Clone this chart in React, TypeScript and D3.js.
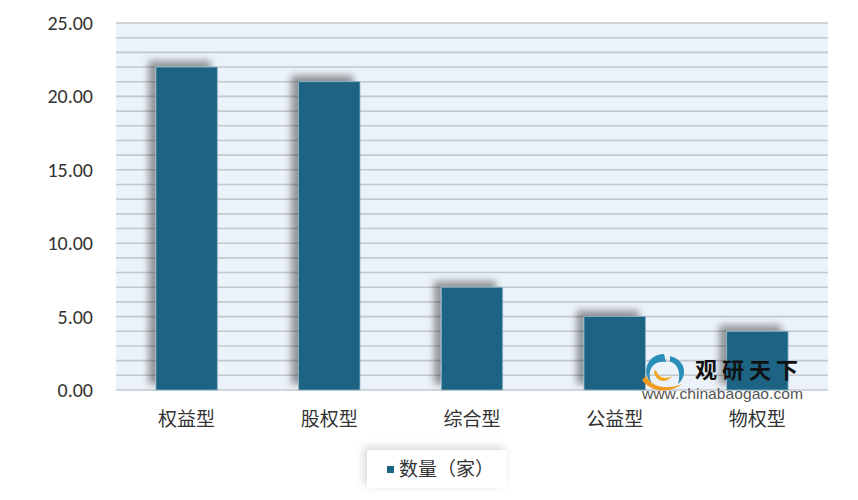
import React from "react";
import * as d3 from "d3";

const categories = ["权益型", "股权型", "综合型", "公益型", "物权型"];
const values = [22, 21, 7, 5, 4];
const yTickValues = [0, 5, 10, 15, 20, 25];
const seriesName = "数量（家）";

const W = 858, H = 500;
const M = { left: 116, right: 30, top: 23, bottom: 110 };

export default function App() {
  const x = d3.scaleBand<string>().domain(categories).range([M.left, W - M.right]).paddingInner(0.57).paddingOuter(0.28);
  const y = d3.scaleLinear().domain([0, 25]).range([H - M.bottom, M.top]);
  const grid = d3.range(0, 26, 1);
  const font = "'Noto Sans CJK SC', 'Microsoft YaHei', sans-serif";
  return (
    <svg width={W} height={H} style={{ position: "absolute", left: 0, top: 0, background: "#fff" }}>
      <defs>
        <filter id="sh" x="-50%" y="-50%" width="200%" height="200%">
          <feDropShadow dx={-7} dy={-6} stdDeviation={3.5} floodColor="#000" floodOpacity={0.38} />
        </filter>
        <filter id="lsh" x="-30%" y="-50%" width="160%" height="200%">
          <feDropShadow dx={-3} dy={-3} stdDeviation={4} floodColor="#000" floodOpacity={0.16} />
        </filter>
      </defs>
      <rect x={M.left} y={M.top} width={W - M.left - M.right} height={H - M.top - M.bottom} fill="#EBF2F9" />
      {grid.map((g) => (
        <line key={g} x1={M.left} x2={W - M.right} y1={y(g)} y2={y(g)} stroke="#c3c8ce" strokeWidth={1.6} />
      ))}
      {yTickValues.map((t) => (
        <text key={t} x={93} y={y(t)} dy="0.35em" textAnchor="end" fontSize={20} fill="#333" fontFamily="Carlito, 'Open Sans', sans-serif">
          {t.toFixed(2)}
        </text>
      ))}
      {categories.map((c, i) => (
        <g key={c}>
          <rect x={x(c)} y={y(values[i])} width={x.bandwidth()} height={y(0) - y(values[i])} fill="#1B6384" stroke="#8fb3c6" strokeWidth={0.8} filter="url(#sh)" />
          <text x={(x(c) || 0) + x.bandwidth() / 2} y={y(0) + 36} textAnchor="middle" fontSize={19} fill="#333" fontFamily={font}>
            {c}
          </text>
        </g>
      ))}
      {/* watermark */}
      <g>
        <path d="M664,354 C648,354 640,372 652,384 C646,372 652,360 666,362 Z" fill="#2a8fb8" />
        <path d="M670,356 C686,360 688,376 678,384 C682,372 676,362 670,362 Z" fill="#2a8fb8" />
        <path d="M642,380 C650,392 670,394 682,384 C668,390 652,388 646,376 Z" fill="#f29a1f" />
        <path d="M654,372 C656,382 666,384 672,376 C666,380 658,378 656,370 Z" fill="#f2a51f" />
        <text x={695} y={378} fontSize={22} letterSpacing={5} fontWeight="bold" fill="#111" fontFamily={font}>观研天下</text>
        <text x={642} y={399} fontSize={15} textLength={161} lengthAdjust="spacingAndGlyphs" fill="#555" fontFamily="Arial, 'Liberation Sans', sans-serif">www.chinabaogao.com</text>
      </g>
      {/* legend */}
      <g filter="url(#lsh)">
        <rect x={367} y={450} width={140} height={38} fill="#fff" />
      </g>
      <rect x={387} y={466} width={7} height={7} fill="#1B6384" />
      <text x={399} y={469} dy="0.35em" fontSize={19} fill="#333" fontFamily={font}>{seriesName}</text>
    </svg>
  );
}
